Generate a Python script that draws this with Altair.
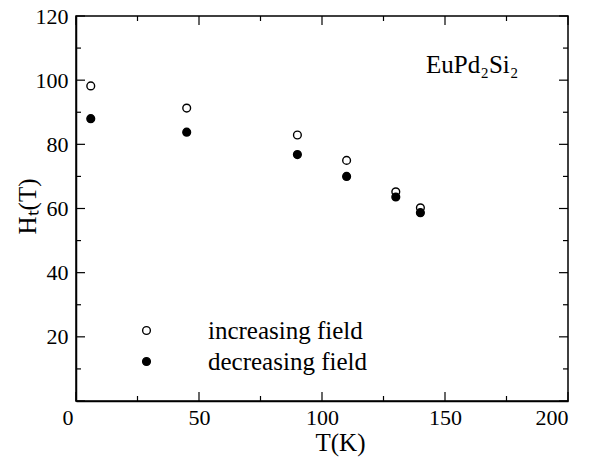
import altair as alt
import pandas as pd

# Data
T = [6, 45, 90, 110, 130, 140]
H_inc = [98.2, 91.3, 82.9, 75.0, 65.2, 60.2]
H_dec = [88.0, 83.8, 76.8, 70.0, 63.6, 58.7]
series_names = ["increasing field", "decreasing field"]

x_major = [0, 50, 100, 150, 200]
x_minor = [25, 75, 125, 175]
y_major = [0, 20, 40, 60, 80, 100, 120]
y_minor = [10, 30, 50, 70, 90, 110]
compound = ["EuPd\u2082Si\u2082"]

W, H = 492, 385
FONT = "Liberation Serif"

rows = []
for t, a, b in zip(T, H_inc, H_dec):
    rows.append({"T": t, "H": a, "series": series_names[0]})
    rows.append({"T": t, "H": b, "series": series_names[1]})
df = pd.DataFrame(rows)

xs = alt.Scale(domain=[0, 200], nice=False, zero=False)
ys = alt.Scale(domain=[0, 120], nice=False, zero=False)

points = alt.Chart(df).mark_circle(
    size=60, stroke="black", strokeWidth=1.4, opacity=1
).encode(
    x=alt.X("T:Q", scale=xs, axis=alt.Axis(
        values=x_major, title="T(K)", ticks=False, grid=False,
        labelPadding=6, titleX=264, titleY=41, titleBaseline="middle",
        labelOffset={"condition": {"test": "datum.value == 0", "value": -14}, "value": 0},
    )),
    y=alt.Y("H:Q", scale=ys, axis=alt.Axis(
        values=y_major, title="H\u209c(T)", ticks=False, grid=False,
        labelPadding=8, titleX=-49, titleY=190, titleBaseline="middle",
        labelExpr="datum.value == 0 ? '' : datum.label",
    )),
    fill=alt.Fill("series:N", scale=alt.Scale(domain=series_names, range=["white", "black"]),
                  legend=alt.Legend(
                      title=None, orient="none", legendX=58, legendY=302, padding=0,
                      labelFont=FONT, labelFontSize=25, labelColor="black",
                      symbolType="circle", symbolSize=60, symbolStrokeColor="black",
                      symbolStrokeWidth=1.4, rowPadding=5, labelOffset=49,
                  )),
)

def xticks(vals, length):
    d = pd.DataFrame({"v": vals})
    bot = alt.Chart(d).mark_rule(color="black", strokeWidth=1.2).encode(
        x=alt.X("v:Q", scale=xs), y=alt.value(H), y2=alt.value(H - length))
    top = alt.Chart(d).mark_rule(color="black", strokeWidth=1.2).encode(
        x=alt.X("v:Q", scale=xs), y=alt.value(0), y2=alt.value(length))
    return [bot, top]

def yticks(vals, length):
    d = pd.DataFrame({"v": vals})
    left = alt.Chart(d).mark_rule(color="black", strokeWidth=1.2).encode(
        y=alt.Y("v:Q", scale=ys), x=alt.value(0), x2=alt.value(length))
    right = alt.Chart(d).mark_rule(color="black", strokeWidth=1.2).encode(
        y=alt.Y("v:Q", scale=ys), x=alt.value(W), x2=alt.value(W - length))
    return [left, right]

label = alt.Chart(pd.DataFrame({"t": compound})).mark_text(
    align="left", baseline="alphabetic", font=FONT, fontSize=25, color="black"
).encode(text="t:N", x=alt.value(350), y=alt.value(57))

layers = xticks(x_major, 9) + xticks(x_minor, 5) + yticks(y_major, 9) + yticks(y_minor, 5) + [label, points]

chart = alt.layer(*layers).properties(
    width=W, height=H,
    autosize=alt.AutoSizeParams(type="none"),
    padding={"left": 68, "top": 8, "right": 17, "bottom": 58},
).configure_view(
    stroke="black", strokeWidth=1.5
).configure_axis(
    labelFont=FONT, labelFontSize=22, labelColor="black",
    titleFont=FONT, titleFontSize=25, titleColor="black", titleFontWeight="normal",
    domainColor="black", domainWidth=1.5,
)

chart.save("out.html", embed_options={"renderer": "svg", "actions": False})
